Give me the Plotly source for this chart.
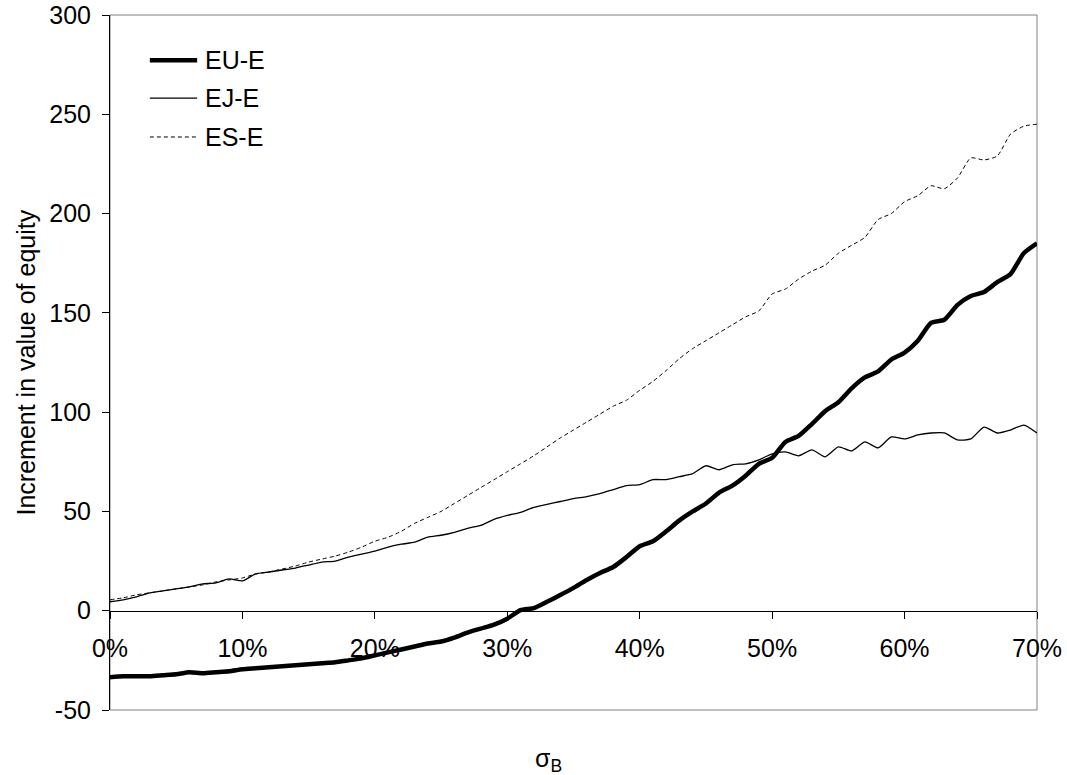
import plotly.graph_objects as go

# Asset volatility sigma_B, from 0% to 70% in 1% steps
sigma_b = [i / 100 for i in range(0, 71)]

eu_e = [-33.5, -33, -33, -33, -32.5, -32, -31, -31.5, -31, -30.5,
        -29.5, -29, -28.5, -28, -27.5, -27, -26.5, -26, -25, -24,
        -22.5, -21, -19.5, -18, -16.5, -15.5, -13.5, -11, -9, -7,
        -4, 0.3, 1.3, 4.5, 7.9, 11.5, 15.5, 19, 22, 27,
        32.5, 35, 40, 45.5, 50, 54, 59.5, 63, 68, 74,
        77, 85, 88, 94, 100.5, 105, 112, 117.5, 120.5, 126.5,
        130, 136, 145, 146.5, 154, 158.5, 160.5, 165.5, 169.5, 180,
        185]

ej_e = [4.5, 5.5, 7, 9, 10, 11, 12, 13.5, 14, 16,
        15, 18.5, 19.5, 20.5, 21.5, 23, 24.5, 25, 27, 28.5,
        30, 32, 33.5, 34.5, 37, 38, 39.5, 41.5, 43, 46,
        48, 49.5, 52, 53.5, 55, 56.5, 57.5, 59, 61, 63,
        63.5, 66, 66, 67.5, 69, 73, 71, 73.5, 74, 76,
        79, 80, 78, 81, 77.5, 82.5, 80.5, 85, 82, 87.5,
        86.5, 88.5, 89.5, 89.5, 86, 86.5, 92.5, 89.5, 91, 93.5,
        89.5]

es_e = [5.5, 6.5, 8, 9, 10, 11, 12, 13, 14.5, 15.5,
        16.5, 18.5, 19.5, 21, 22.5, 24.5, 26, 27.5, 29.5, 32,
        35, 37, 40, 44, 47, 50, 54, 58, 62, 66,
        70, 74, 78, 82.5, 87, 91, 95, 99, 103, 106,
        111, 115.5, 121, 127, 132, 136, 140, 144, 148, 151,
        159.5, 162, 167, 171, 174, 180, 184, 188, 197, 200,
        206, 209, 214, 212.5, 218, 228, 227, 229, 240, 244,
        245]

x_ticks = [0, 0.1, 0.2, 0.3, 0.4, 0.5, 0.6, 0.7]
x_tick_text = ["0%", "10%", "20%", "30%", "40%", "50%", "60%", "70%"]
y_ticks = [-50, 0, 50, 100, 150, 200, 250, 300]
y_tick_text = ["-50", "0", "50", "100", "150", "200", "250", "300"]

FONT = "Liberation Sans, Arial, sans-serif"
FS = 25

series = [
    ("EU-E", eu_e, dict(color="black", width=4.5)),
    ("EJ-E", ej_e, dict(color="black", width=1.3)),
    ("ES-E", es_e, dict(color="black", width=1, dash="4px,3px")),
]

fig = go.Figure()
for name, vals, line in series:
    fig.add_trace(go.Scatter(
        x=sigma_b, y=vals, name=name, mode="lines",
        line=dict(shape="spline", smoothing=0.6, **line),
        showlegend=False,
    ))

# Legend drawn inside the plot frame, top-left
leg_y = [0.935, 0.8805, 0.8245]
for (name, _, line), ly in zip(series, leg_y):
    fig.add_shape(type="line", xref="paper", yref="paper",
                  x0=0.043, x1=0.094, y0=ly, y1=ly,
                  line=line)
    fig.add_annotation(x=0.1, y=ly, xref="paper", yref="paper",
                       text=name, showarrow=False, xanchor="left",
                       yanchor="middle", font=dict(size=FS, color="black"))

# Plot frame
fig.add_shape(type="rect", xref="paper", yref="paper", x0=0, x1=1, y0=0, y1=1,
              line=dict(color="#808080", width=1), layer="below")

fig.add_annotation(x=0.4725, y=0, xref="paper", yref="paper",
                   text="σ<sub>B</sub>", showarrow=False,
                   yanchor="top", yshift=-32, font=dict(size=FS, color="black"))
fig.add_annotation(x=0, y=0.5, xref="paper", yref="paper",
                   text="Increment in value of equity", showarrow=False,
                   textangle=-90, xanchor="center", xshift=-85,
                   font=dict(size=FS, color="black"))

fig.update_layout(
    width=1067, height=775,
    margin=dict(l=110, r=30, t=15, b=65, autoexpand=False),
    paper_bgcolor="white", plot_bgcolor="white",
    font=dict(family=FONT, size=FS, color="black"),
    xaxis=dict(range=[0, 0.7], tickvals=x_ticks, ticktext=x_tick_text,
               anchor="free", position=50 / 350, automargin=False,
               showline=True, linecolor="black", linewidth=1,
               ticks="outside", ticklen=7, tickcolor="black",
               ticklabelstandoff=8, showgrid=False, zeroline=False),
    yaxis=dict(range=[-50, 300], tickvals=y_ticks, ticktext=y_tick_text,
               automargin=False,
               showline=True, linecolor="black", linewidth=1,
               ticks="outside", ticklen=7, tickcolor="black",
               ticklabelstandoff=6, showgrid=False, zeroline=False),
)

fig.write_html("out.html")
